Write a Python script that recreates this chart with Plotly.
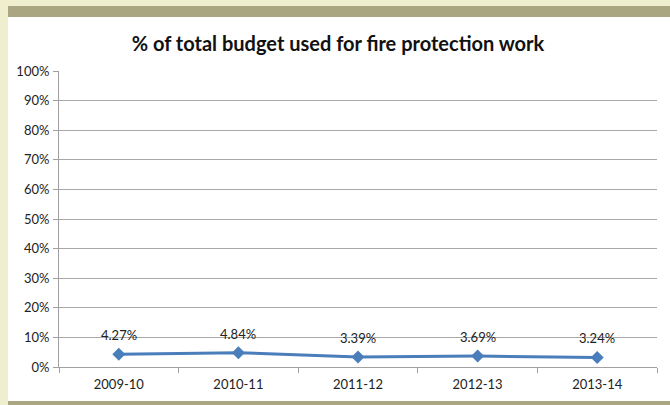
import plotly.graph_objects as go

years = ["2009-10", "2010-11", "2011-12", "2012-13", "2013-14"]
share_pct = [4.27, 4.84, 3.39, 3.69, 3.24]
labels = [f"{v:.2f}%" for v in share_pct]
y_ticks = list(range(0, 101, 10))
y_tick_text = [f"{v}%" for v in y_ticks]

W, H = 670, 405
L, R, T, B = 59, 13, 71, 38
PW, PH = W - L - R, H - T - B
FONT = "Lato, sans-serif"


def px_x(px):
    return (px - L) / PW


def px_y(py):
    return (H - B - py) / PH


fig = go.Figure(
    go.Scatter(
        x=years,
        y=share_pct,
        mode="lines+markers",
        line=dict(color="#4a7ebb", width=3),
        marker=dict(symbol="diamond", size=10, color="#4a7ebb"),
        cliponaxis=False,
        hoverinfo="skip",
    )
)

# value labels sitting above each point
for yr, v, t in zip(years, share_pct, labels):
    fig.add_annotation(
        x=yr, y=v, text=t, showarrow=False, yshift=19,
        font=dict(family=FONT, size=13, color="#222"),
    )

frame = [
    # olive band at top
    dict(x0=px_x(8), x1=px_x(W), y0=px_y(6), y1=px_y(17), color="#aaa682"),
    # white chart card
    dict(x0=px_x(8), x1=px_x(W), y0=px_y(17), y1=px_y(401), color="#ffffff"),
    # olive band at bottom
    dict(x0=px_x(8), x1=px_x(W), y0=px_y(401), y1=px_y(H), color="#aaa682"),
]
for s in frame:
    fig.add_shape(
        type="rect", xref="paper", yref="paper",
        x0=s["x0"], x1=s["x1"], y0=s["y0"], y1=s["y1"],
        fillcolor=s["color"], line=dict(width=0), layer="below",
    )

fig.update_layout(
    width=W, height=H,
    margin=dict(l=L, r=R, t=T, b=B),
    paper_bgcolor="#efeecf",
    plot_bgcolor="rgba(0,0,0,0)",
    showlegend=False,
    title=dict(
        text="<b>% of total budget used for fire protection work</b>",
        x=338 / W, xref="container", xanchor="center",
        y=1 - 44 / H, yanchor="middle",
        font=dict(family=FONT, size=20, color="#111"),
    ),
    xaxis=dict(
        type="category",
        range=[-0.5, 4.5],
        tickson="boundaries",
        ticks="outside", ticklen=5, tickcolor="#a0a0a0",
        ticklabelstandoff=5,
        showgrid=False,
        showline=True, linecolor="#a0a0a0", linewidth=1,
        tickfont=dict(family=FONT, size=13, color="#222"),
        fixedrange=True,
    ),
    yaxis=dict(
        range=[0, 100],
        tickvals=y_ticks, ticktext=y_tick_text,
        ticks="outside", ticklen=5, tickcolor="#a0a0a0",
        ticklabelstandoff=1,
        showgrid=True, gridcolor="#a8a8a8", gridwidth=1,
        showline=True, linecolor="#a0a0a0", linewidth=1,
        zeroline=False,
        tickfont=dict(family=FONT, size=13, color="#222"),
        fixedrange=True,
    ),
)

fig.write_html("out.html", config={"displayModeBar": False})
